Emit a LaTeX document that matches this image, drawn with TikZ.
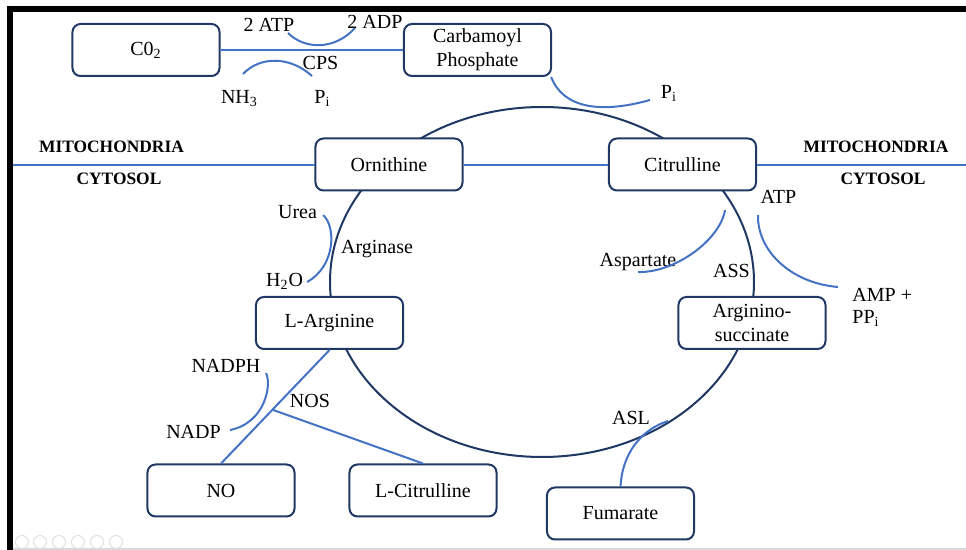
\documentclass[tikz,border=0pt]{standalone}
\usepackage{fontspec}
\setmainfont{Liberation Serif}
\usetikzlibrary{arrows,shapes,positioning,calc}
\definecolor{navy}{HTML}{203864}
\definecolor{cycblue}{HTML}{4472C4}

\begin{document}
\begin{tikzpicture}[scale=0.1757]
                    \tikzstyle{every node}+=[inner sep=0pt]
                    \tikzstyle{box}=[draw=navy, line width=1pt, fill=white, rounded corners=4pt, minimum width=73.5pt, minimum height=26pt, align=center]
                    \tikzstyle{lbl}=[anchor=base]
                    \tikzstyle{side}=[cycblue, line width=1pt]
                    \tikzstyle{comp}=[font=\fontsize{8.7}{10}\selectfont\bfseries, anchor=base]
                    \useasboundingbox (0,0) rectangle (96.6,-55);
                    % slide frame
                    \fill [black] (0.7,-0.6) rectangle (96.6,-1.2);
                    \fill [black] (0.7,-0.6) rectangle (1.3,-55);
                    \draw [black!15, line width=0.6pt] (1.3,-54.9) -- (96.6,-54.9);
                    \foreach \x in {2.2,4.0,5.9,7.8,9.7,11.6}
                        \draw [black!12, line width=0.5pt] (\x,-54.2) circle (0.65);
                    % the cycle
                    \draw [navy, line width=1pt] (54.2,-28.2) ellipse (21.2 and 17.5);
                    \node [box] (co2) at (14.6,-5.0) {C0\textsubscript{2}};
                    \node [box] (carb) at (47.75,-5.0) {Carbamoyl\\Phosphate};
                    \node [box] (orn) at (38.9,-16.45) {Ornithine};
                    \node [box] (cit) at (68.25,-16.45) {Citrulline};
                    \node [box] (larg) at (32.95,-32.3) {L-Arginine};
                    \node [box] (asuc) at (75.2,-32.3) {Arginino-\\succinate};
                    \node [box] (no) at (22.1,-49.05) {NO};
                    \node [box] (lcit) at (42.3,-49.05) {L-Citrulline};
                    \node [box] (fum) at (62.05,-51.35) {Fumarate};
                    % compartments
                    \node [comp] (mitoL) at (11.15,-15.3) {MITOCHONDRIA};
                    \node [comp] (cytoL) at (11.9,-18.5) {CYTOSOL};
                    \node [comp] (mitoR) at (87.6,-15.3) {MITOCHONDRIA};
                    \node [comp] (cytoR) at (88.3,-18.5) {CYTOSOL};
                    \coordinate (memL) at (1.3,-16.45);
                    \coordinate (memR) at (96.6,-16.45);
                    \draw [side] (memL) -- (orn.west);
                    \draw [side] (orn.east) -- (cit.west);
                    \draw [side] (cit.east) -- (memR);
                    % CPS step
                    \node [lbl] (atp) at (26.9,-3.2) {2 ATP};
                    \node [lbl] (adp) at (37.5,-2.9) {2 ADP};
                    \node [lbl] (cps) at (32.05,-7.0) {CPS};
                    \node [lbl] (nh3) at (23.95,-10.4) {NH\textsubscript{3}};
                    \node [lbl] (piL) at (32.25,-10.4) {P\textsubscript{i}};
                    \node [lbl] (piR) at (66.9,-9.9) {P\textsubscript{i}};
                    \draw [side] (co2) -- (carb);
                    \coordinate (atpEnd) at (28.8,-3.3);
                    \coordinate (adpEnd) at (35.5,-2.8);
                    \draw [side] (atpEnd) .. controls (30.5,-5.0) and (33.5,-5.0) .. (adpEnd);
                    \coordinate (nh3End) at (24.3,-7.4);
                    \coordinate (piLEnd) at (31.2,-7.6);
                    \draw [side] (nh3End) .. controls (26.0,-5.6) and (29.0,-5.6) .. (piLEnd);
                    \coordinate (piREnd) at (65.0,-10.0);
                    \draw [side] ([xshift=-2.5pt]carb.south east) .. controls (56.3,-10.8) and (60.0,-11.4) .. (piREnd);
                    % arginase step
                    \node [lbl] (urea) at (29.75,-21.9) {Urea};
                    \node [lbl] (h2o) at (28.45,-28.7) {H\textsubscript{2}O};
                    \node [lbl] (argase) at (37.7,-25.4) {Arginase};
                    \coordinate (ureaEnd) at (32.3,-21.5);
                    \coordinate (h2oEnd) at (30.7,-28.2);
                    \draw [side] (ureaEnd) .. controls (33.6,-22.6) and (33.6,-26.6) .. (h2oEnd);
                    % ASS step
                    \node [lbl] (atpR) at (77.85,-20.4) {ATP};
                    \node [lbl] (asp) at (63.8,-26.7) {Aspartate};
                    \node [lbl] (ass) at (73.15,-27.8) {ASS};
                    \node [anchor=west, align=left] (amp) at (85.2,-30.7) {AMP +\\[-1pt]PP\textsubscript{i}};
                    \coordinate (aspTop) at (72.5,-21.0);
                    \coordinate (aspEnd) at (63.8,-27.2);
                    \draw [side] (aspTop) .. controls (72.0,-24.0) and (67.5,-27.3) .. (aspEnd);
                    \coordinate (atpTop) at (75.8,-21.5);
                    \coordinate (ampEnd) at (83.8,-28.7);
                    \draw [side] (atpTop) .. controls (75.7,-25.0) and (79.0,-28.3) .. (ampEnd);
                    % ASL step
                    \node [lbl] (asl) at (63.1,-42.5) {ASL};
                    \coordinate (aslTop) at (66.8,-42.1);
                    \draw [side] (aslTop) .. controls (64.0,-43.0) and (62.2,-45.5) .. (fum.north);
                    % NOS step
                    \node [lbl] (nadph) at (22.6,-37.3) {NADPH};
                    \node [lbl] (nadp) at (19.35,-43.9) {NADP};
                    \node [lbl] (nos) at (31.0,-40.8) {NOS};
                    \coordinate (nadphEnd) at (26.6,-37.3);
                    \coordinate (nadpEnd) at (23.0,-43.0);
                    \draw [side] (nadphEnd) .. controls (27.2,-38.5) and (26.5,-42.3) .. (nadpEnd);
                    \coordinate (split) at ($(larg.south)!0.526!(no.north)$);
                    \draw [side] (larg.south) -- (no.north);
                    \draw [side] (split) -- (lcit.north);
                \end{tikzpicture}
\end{document}
